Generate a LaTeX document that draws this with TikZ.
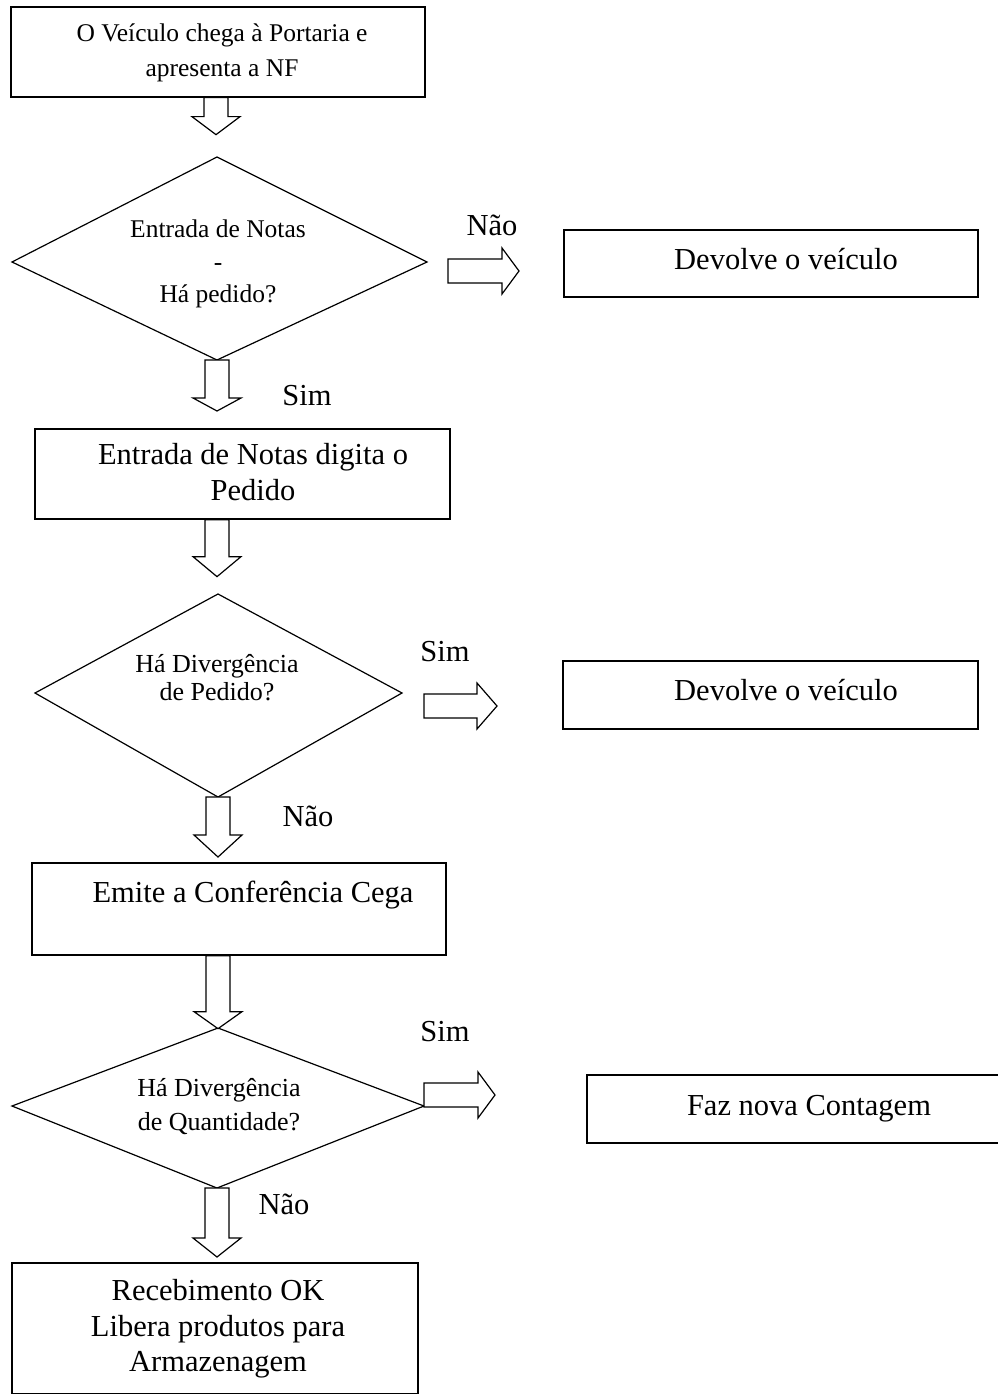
\documentclass[tikz,border=0pt]{standalone}
\usepackage{fontspec}
\setmainfont{Liberation Serif}
\begin{document}
\begin{tikzpicture}[x=1pt, y=-1pt,
  box/.style={draw, line width=1.3pt, inner sep=0pt},
  small/.style={font=\fontsize{25.5}{35}\selectfont, align=center, inner sep=0pt},
  mid/.style={font=\fontsize{26}{28}\selectfont, align=center, inner sep=0pt},
  big/.style={font=\fontsize{30.5}{35.5}\selectfont, align=center, inner sep=0pt},
  decision/.style={draw, line width=1.2pt, line join=miter},
  blockline/.style={draw, line width=1.2pt, fill=white, line join=miter},
  % hollow block arrow pointing down: shaft half-width, shaft length, tip distance
  pics/downarrow/.style n args={3}{code={
    \path[blockline] (-#1,0) -- (-#1,#2) -- (-24,#2) -- (0,#3) -- (24,#2)
      -- (#1,#2) -- (#1,0) -- cycle;}},
  % hollow block arrow pointing right: shaft length, tip distance
  pics/rightarrow/.style n args={2}{code={
    \path[blockline] (0,-12) -- (#1,-12) -- (#1,-23) -- (#2,0) -- (#1,23)
      -- (#1,12) -- (0,12) -- cycle;}},
]
\useasboundingbox (0,0) rectangle (998,1394);

% ---- process boxes ----
\node[box, minimum width=414, minimum height=90] (b1) at (218,52) {};
\node[small] (b1t) at (222,52.7) {O Veículo chega à Portaria e\\apresenta a NF};

\node[box, minimum width=415, minimum height=90] (b2) at (242.5,474) {};
\node[big] (b2t) at (253,472) {Entrada de Notas digita o\\Pedido};

\node[box, minimum width=414, minimum height=92] (b3) at (239,909) {};
\node[big, anchor=base] (b3t) at (253,902) {Emite a Conferência Cega};

\node[box, minimum width=406, minimum height=131] (b4) at (215,1328.5) {};
\node[big, font=\fontsize{30.5}{35.5}\selectfont] (b4t) at (218,1329)
  {Recebimento OK\\Libera produtos para\\Armazenagem};

\node[box, minimum width=414, minimum height=67] (r1) at (771,263.5) {};
\node[big, anchor=base] (r1t) at (786,269) {Devolve o veículo};

\node[box, minimum width=415, minimum height=68] (r2) at (770.5,695) {};
\node[big, anchor=base] (r2t) at (786,700) {Devolve o veículo};

\node[box, minimum width=415, minimum height=68] (r3) at (794.5,1109) {};
\node[big, anchor=base] (r3t) at (809,1115) {Faz nova Contagem};

% ---- decisions ----
\coordinate (d1n) at (217,157);  \coordinate (d1e) at (427,262);
\coordinate (d1s) at (217,360);  \coordinate (d1w) at (12,262);
\draw[decision] (d1n) -- (d1e) -- (d1s) -- (d1w) -- cycle;
\node[small, font=\fontsize{25.5}{32.5}\selectfont] (d1t) at (218,264)
  {Entrada de Notas\\-\\Há pedido?};

\coordinate (d2n) at (218,594);  \coordinate (d2e) at (402,693);
\coordinate (d2s) at (218,797);  \coordinate (d2w) at (35,693);
\draw[decision] (d2n) -- (d2e) -- (d2s) -- (d2w) -- cycle;
\node[mid] (d2t) at (217,678) {Há Divergência\\de Pedido?};

\coordinate (d3n) at (218,1028); \coordinate (d3e) at (424,1106);
\coordinate (d3s) at (217,1188); \coordinate (d3w) at (12,1106);
\draw[decision] (d3n) -- (d3e) -- (d3s) -- (d3w) -- cycle;
\node[mid, font=\fontsize{26}{34}\selectfont] (d3t) at (219,1106.5)
  {Há Divergência\\de Quantidade?};

% ---- block arrows between the steps ----
\pic at ([xshift=-2pt]b1.south) {downarrow={12}{19}{37}};
\pic at (d1s) {downarrow={12}{38}{51}};
\pic at (b2.south -| d1n) {downarrow={12}{37}{57}};
\pic at (d2s) {downarrow={12}{38}{60}};
\pic at (b3.south -| d3n) {downarrow={12}{56}{73}};
\pic at (d3s) {downarrow={12}{50}{69}};

\pic at ([xshift=21pt, yshift=-9pt]d1e) {rightarrow={54}{71}};
\pic at ([xshift=22pt, yshift=-13pt]d2e) {rightarrow={53}{73}};
\pic at ([yshift=11pt]d3e) {rightarrow={54}{71}};

% ---- branch labels ----
\node[big, anchor=base] (l1) at (492,235) {Não};
\node[big, anchor=base] (l2) at (307,405) {Sim};
\node[big, anchor=base] (l3) at (445,661) {Sim};
\node[big, anchor=base] (l4) at (308,826) {Não};
\node[big, anchor=base] (l5) at (445,1041) {Sim};
\node[big, anchor=base] (l6) at (284,1214) {Não};
\end{tikzpicture}
\end{document}
